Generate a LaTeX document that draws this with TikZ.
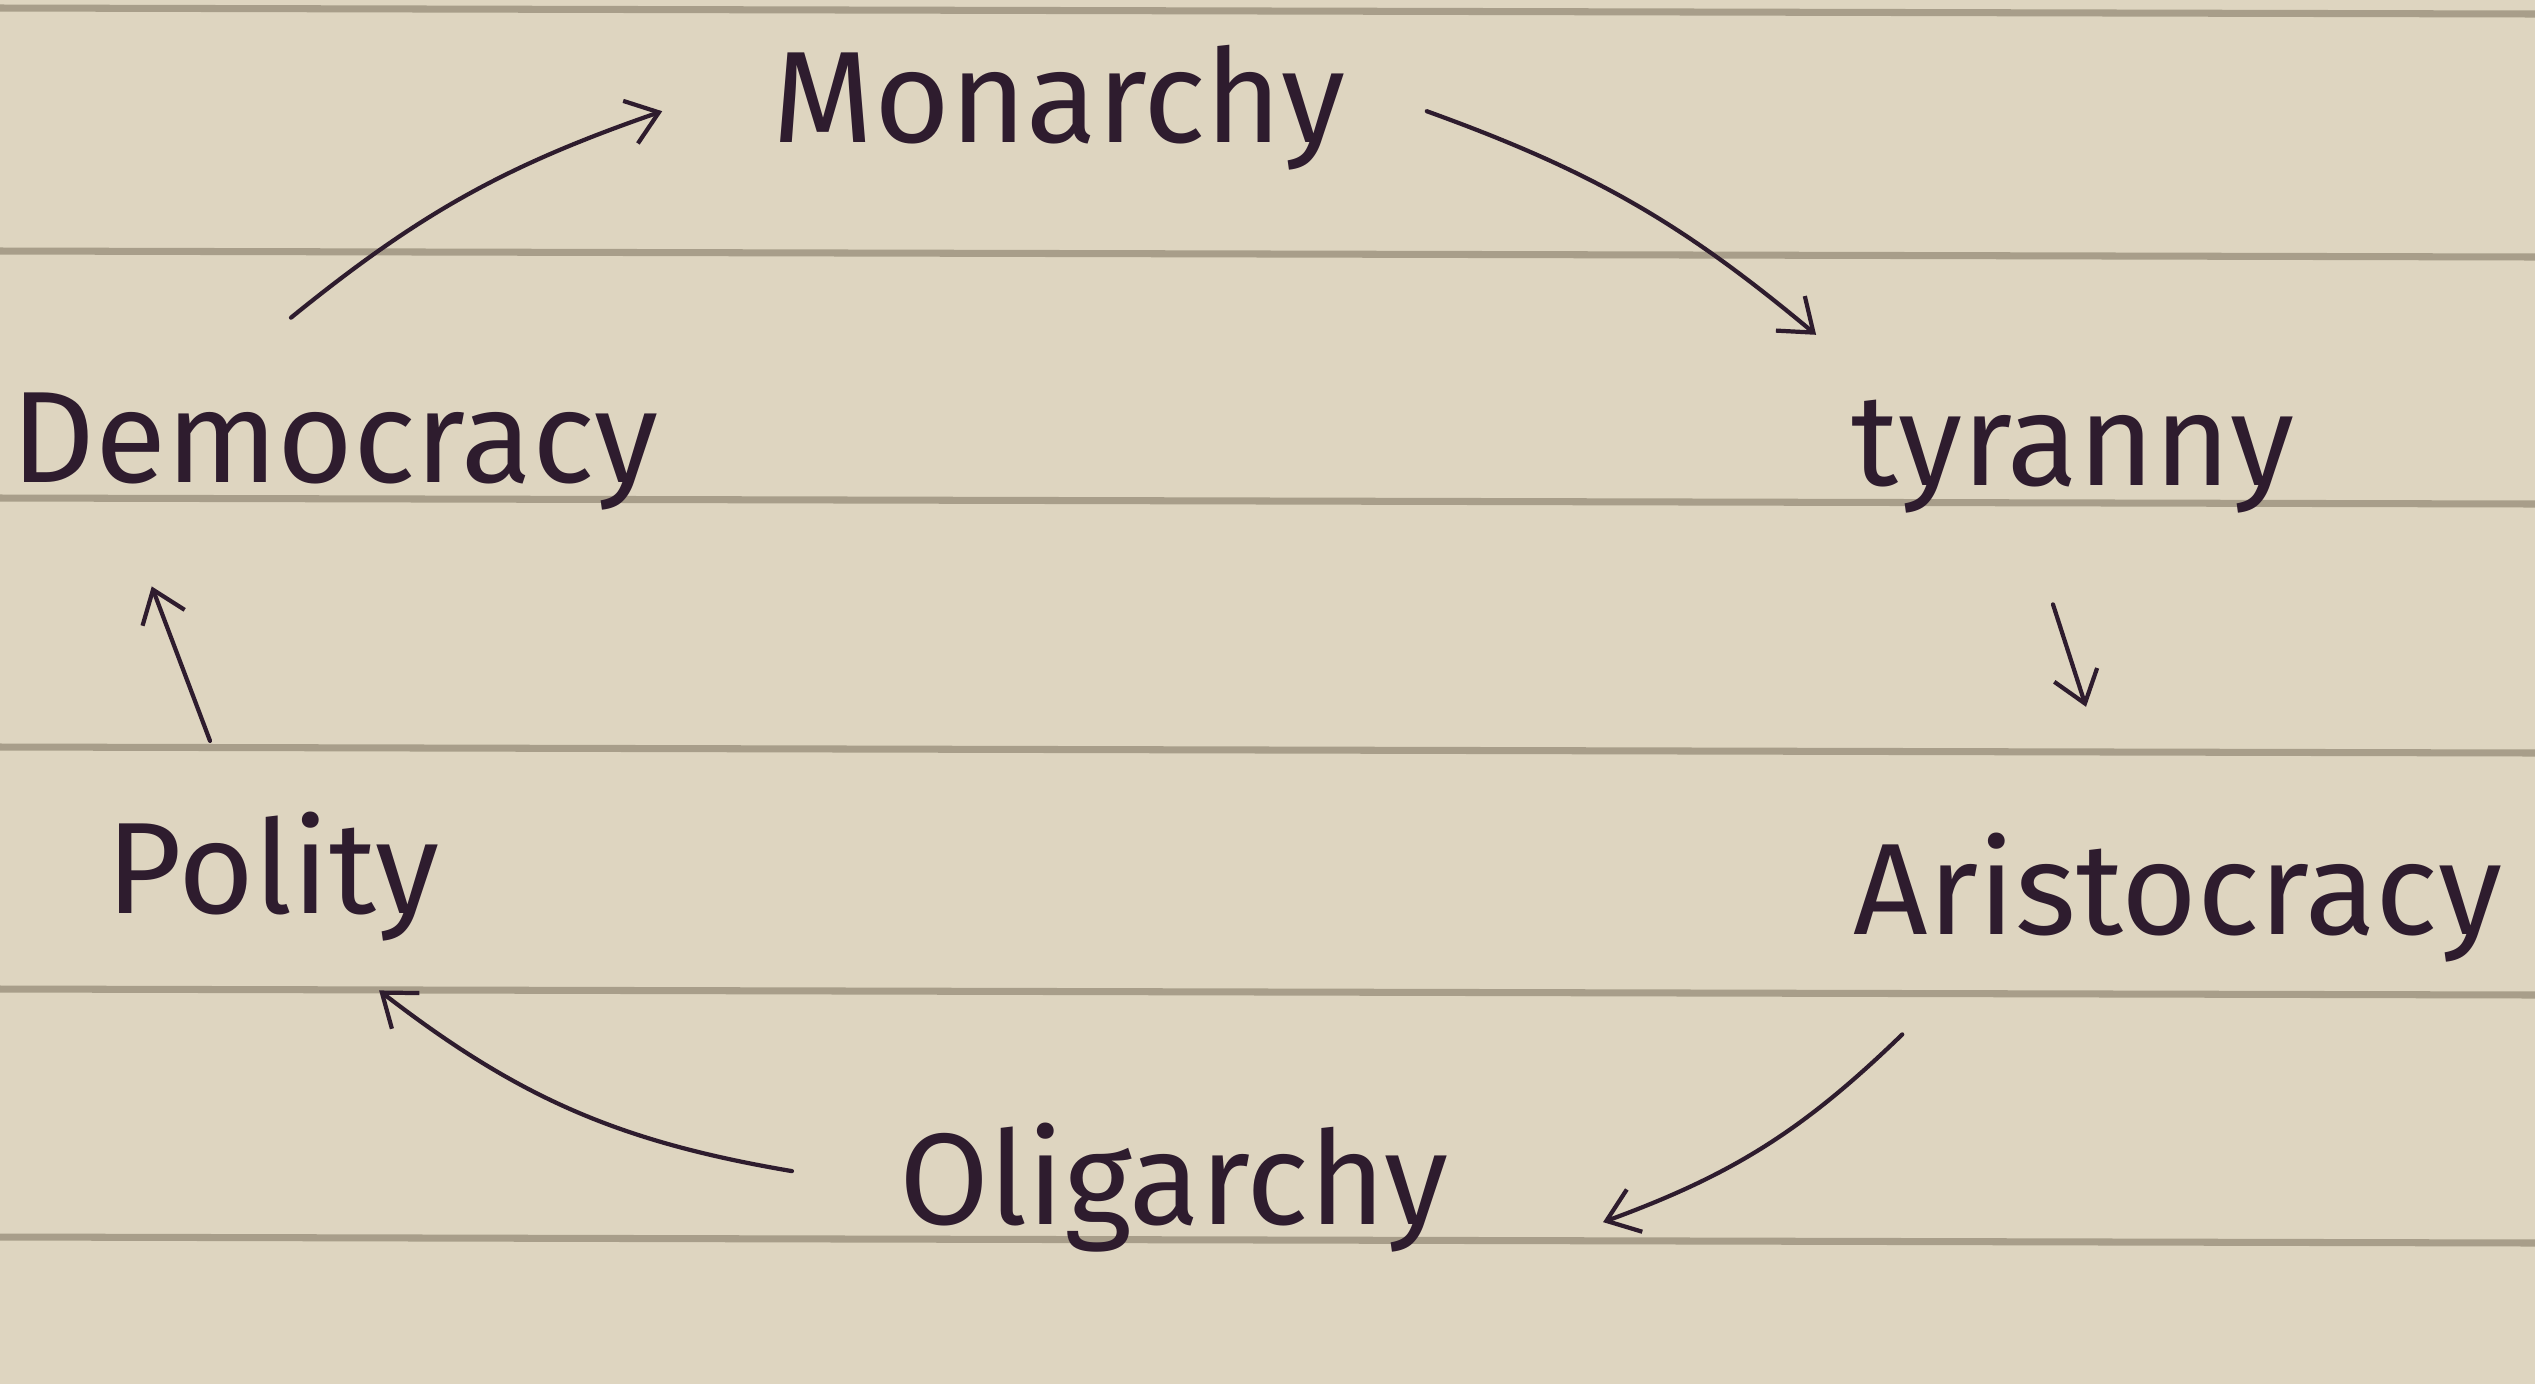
\documentclass[tikz,border=0pt]{standalone}
\usepackage{fontspec}
\setmainfont{Fira Sans}
\usetikzlibrary{arrows.meta,calc}
\definecolor{paper}{RGB}{222,213,192}
\definecolor{rule}{RGB}{168,158,138}
\definecolor{ink}{RGB}{46,28,46}
\tikzset{
  form/.style={font=\fontsize{37}{40}\selectfont, text=ink, inner sep=0pt, anchor=base},
  flow/.style={-{Straight Barb[length=3mm,width=4.5mm]}, draw=ink, line width=1.2pt, line cap=round},
}
\begin{document}
\begin{tikzpicture}[x=0.01cm,y=-0.01cm]
	% 用紙と罫線
	\fill[paper] (0,0) rectangle (2535,1384);
	\useasboundingbox (0,0) rectangle (2535,1384);
	\foreach \y in {8,251,498,747,989,1237}
		\draw[rule, line width=2pt] (0,\y) -- (2535,\y+6);
	% 政体
	\node[form] (mon) at (1059,142) {Monarchy};
	\node[form] (tyr) at (2073,485) {tyranny};
	\node[form] (ari) at (2178,934) {Aristocracy};
	\node[form] (oli) at (1174,1224) {Oligarchy};
	\node[form] (pol) at (273,913) {Polity};
	\node[form] (dem) at (335,482) {Democracy};
	% 循環の矢印
	\draw[flow] ($(dem.north)+(-44,-74)$) to[bend left=10] ($(mon.west)+(-110,4)$);
	\draw[flow] ($(mon.east)+(81,4)$) to[bend left=10] ($(tyr.north west)+(-35,-64)$);
	\draw[flow] ($(tyr.south)+(-20,91)$) -- ($(ari.north)+(-92,-125)$);
	\draw[flow] ($(ari.south west)+(49,72)$) to[bend left=12] ($(oli.east)+(154,35)$);
	\draw[flow] ($(oli.west)+(-107,-16)$) to[bend left=14] ($(pol.south east)+(-61,49)$);
	\draw[flow] ($(pol.north)+(-63,-70)$) -- ($(dem.south west)+(141,76)$);
\end{tikzpicture}
\end{document}
